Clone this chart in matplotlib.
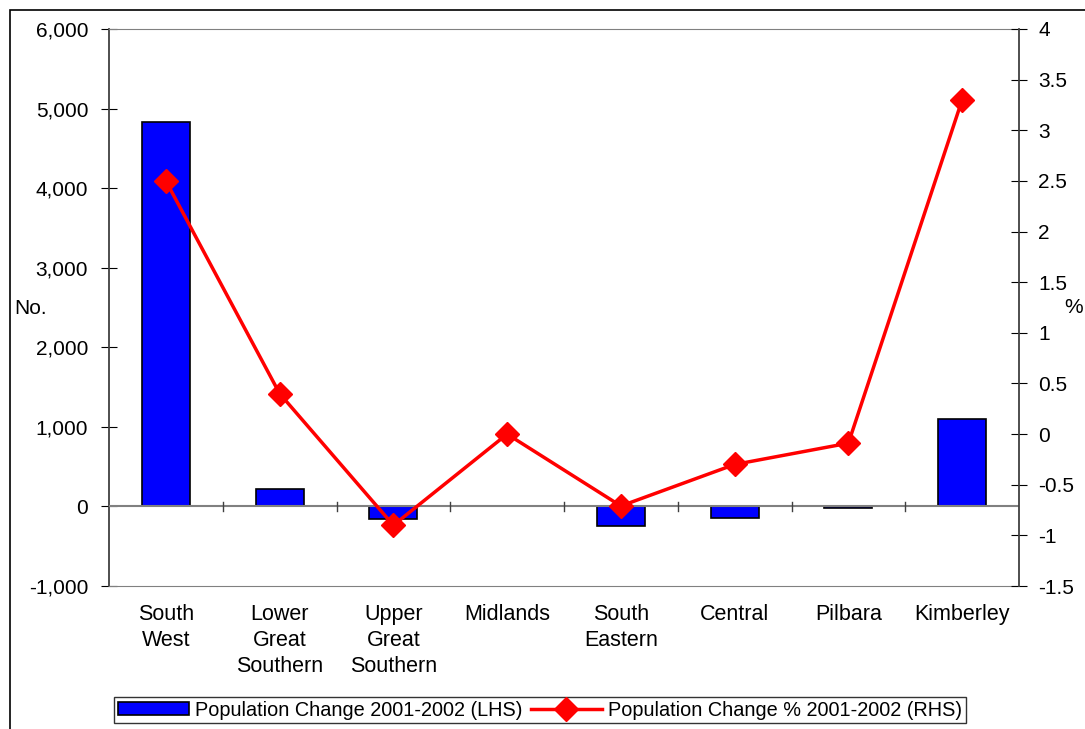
import matplotlib.pyplot as plt
import matplotlib.patches as mpatches
import numpy as np

plt.rcParams['font.family'] = ['Liberation Sans', 'DejaVu Sans']

regions = ['South\nWest', 'Lower\nGreat\nSouthern', 'Upper\nGreat\nSouthern', 'Midlands',
           'South\nEastern', 'Central', 'Pilbara', 'Kimberley']
pop_change = [4830, 214, -164, 0, -248, -151, -20, 1095]
pct_change = [2.5, 0.4, -0.9, 0.0, -0.71, -0.3, -0.09, 3.3]

fig = plt.figure(figsize=(10.85, 7.29), dpi=100)
ax = fig.add_axes([109/1085, 1 - 586/729, 910/1085, 557/729])

x = np.arange(len(regions))
bars = ax.bar(x, pop_change, width=0.42, color='#0000ff', edgecolor='black', linewidth=1.2,
              label='Population Change 2001-2002 (LHS)', zorder=2)
ax.set_xlim(-0.5, len(regions) - 0.5)
ax.set_ylim(-1000, 6000)
ax.set_yticks(np.arange(-1000, 6001, 1000))
ax.set_yticklabels([f'{v:,}' for v in range(-1000, 6001, 1000)])
ax.tick_params(axis='y', direction='inout', length=12, labelsize=15, pad=9)
ax.set_xticks(x)
ax.set_xticklabels(regions, fontsize=15.5, linespacing=1.3, va='top')
ax.tick_params(axis='x', length=0, pad=13)

# category axis along zero
ax.axhline(0, color='#808080', lw=1.5, zorder=3)
for b in np.arange(0.5, len(regions) - 0.5, 1):
    ax.plot([b, b], [-60, 60], color='#404040', lw=1, zorder=3)

for s in ['top', 'bottom']:
    ax.spines[s].set_color('#808080')
ax.spines['left'].set_color('#404040')
ax.spines['left'].set_linewidth(1.3)
ax.spines['right'].set_visible(False)

ax2 = ax.twinx()
ax2.plot(x, pct_change, color='#ff0000', lw=2.5, marker='D', markersize=12,
         label='Population Change % 2001-2002 (RHS)', zorder=4)
ax2.set_ylim(-1.5, 4)
ax2.set_yticks(np.arange(-1.5, 4.01, 0.5))
ax2.set_yticklabels(['-1.5', '-1', '-0.5', '0', '0.5', '1', '1.5', '2', '2.5', '3', '3.5', '4'])
ax2.tick_params(axis='y', direction='inout', length=12, labelsize=15, pad=8)
ax2.spines['right'].set_color('#404040')
ax2.spines['right'].set_linewidth(1.3)
for s in ['top', 'bottom', 'left']:
    ax2.spines[s].set_visible(False)

fig.text(14/1085, 1 - 308/729, 'No.', fontsize=15, va='center', ha='left')
fig.text(1074/1085, 1 - 307/729, '%', fontsize=15, va='center', ha='center')

handles = [bars, ax2.get_lines()[0]]
leg = fig.legend(handles, [h.get_label() for h in handles], loc='center',
                 bbox_to_anchor=(540/1085, 1 - 710/729), ncol=2, fontsize=14.3,
                 frameon=True, fancybox=False, edgecolor='black', borderpad=0.2,
                 handlelength=3.6, handleheight=0.6, columnspacing=0.4, handletextpad=0.3,
                 borderaxespad=0)
leg.get_frame().set_linewidth(1)

# outer chart border (cropped at right and bottom)
fig.patches.append(mpatches.Rectangle((10/1085, -0.1), 1.2, 1 - 10/729 + 0.1,
                                      transform=fig.transFigure, fill=False,
                                      edgecolor='black', lw=1.2))

fig.savefig('out.png', dpi=100)
